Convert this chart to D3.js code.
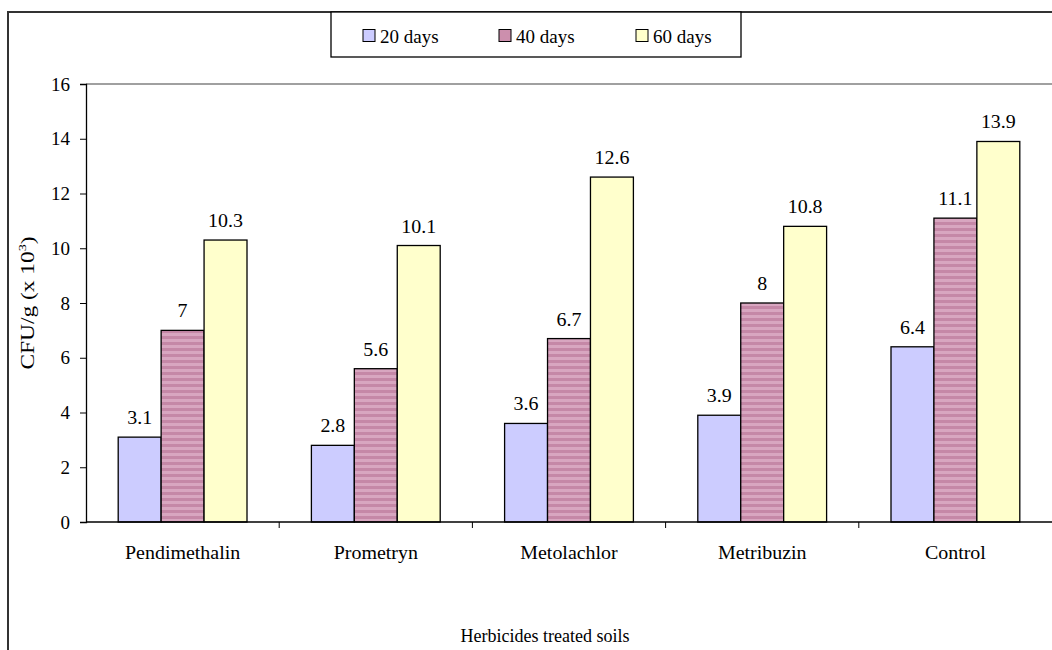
<!DOCTYPE html>
<html>
<head>
<meta charset="utf-8">
<script src="https://cdn.jsdelivr.net/npm/d3@7"></script>
<style>
  html, body { margin: 0; padding: 0; background: #fff; }
  svg { display: block; }
  svg text { font-family: "Liberation Serif", "Times New Roman", "DejaVu Serif", serif; }
</style>
</head>
<body>
<svg id="chart" width="1052" height="650"></svg>
<script>
// Microbial counts in herbicide treated soils, sampled after 20, 40 and 60 days
const categories = ["Pendimethalin", "Prometryn", "Metolachlor", "Metribuzin", "Control"];
const seriesNames = ["20 days", "40 days", "60 days"];
const days20 = [3.1, 2.8, 3.6, 3.9, 6.4];
const days40 = [7, 5.6, 6.7, 8, 11.1];
const days60 = [10.3, 10.1, 12.6, 10.8, 13.9];
const yTicks = [0, 2, 4, 6, 8, 10, 12, 14, 16];

const seriesValues = [days20, days40, days60];
const fills = ["#ccccff", "url(#stripes)", "#ffffcc"];
const swatchFills = ["#ccccff", "#cc8fad", "#ffffcc"];
const FONT = "Liberation Serif, Times New Roman, DejaVu Serif, serif";
const LABEL_SIZE = 19;
const STRETCH = 1.05;   // slight widening of the label glyphs

const svg = d3.select("#chart");
const margin = { left: 86, right: 1052, top: 84, bottom: 522 };

// striped fill for the 40-day series
const defs = svg.append("defs");
const pat = defs.append("pattern")
  .attr("id", "stripes").attr("patternUnits", "userSpaceOnUse")
  .attr("width", 8).attr("height", 6);
pat.append("rect").attr("width", 8).attr("height", 6).attr("fill", "#d8a6c0");
pat.append("rect").attr("y", 0).attr("width", 8).attr("height", 3).attr("fill", "#c588a7");

const x = d3.scaleBand().domain(categories).range([margin.left, margin.right]).paddingInner(0).paddingOuter(0);
const inner = d3.scaleBand().domain(seriesNames).range([0, x.bandwidth()]).paddingInner(0).paddingOuter(0.75);
const y = d3.scaleLinear().domain([0, 16]).range([margin.bottom, margin.top]);

// places a text label at (px, py) with a small horizontal stretch
function label(sel, px, py, txt, anchor) {
  return sel.append("text")
    .attr("transform", `translate(${px},${py}) scale(${STRETCH},1)`)
    .attr("text-anchor", anchor)
    .attr("font-family", FONT)
    .attr("font-size", LABEL_SIZE).attr("fill", "#000")
    .text(txt);
}

// outer chart frame (left and top edges)
svg.append("path")
  .attr("d", `M8,650 L8,12 L1052,12`)
  .attr("fill", "none").attr("stroke", "#333").attr("stroke-width", 2);

// plot area top edge
svg.append("line")
  .attr("x1", margin.left).attr("x2", margin.right)
  .attr("y1", y(16)).attr("y2", y(16))
  .attr("stroke", "#808080").attr("stroke-width", 1.5);

// bars
const groups = svg.append("g").selectAll("g")
  .data(categories).join("g")
  .attr("transform", d => `translate(${x(d)},0)`);

groups.each(function(cat, ci) {
  const g = d3.select(this);
  seriesNames.forEach((s, si) => {
    const v = seriesValues[si][ci];
    g.append("rect")
      .attr("x", inner(s))
      .attr("y", y(v))
      .attr("width", inner.bandwidth())
      .attr("height", y(0) - y(v))
      .attr("fill", fills[si])
      .attr("stroke", "#000").attr("stroke-width", 1.3);
    label(g, inner(s) + inner.bandwidth() / 2, y(v) - 13, v, "middle");
  });
});

// y axis
const yAxis = svg.append("g")
  .attr("transform", `translate(${margin.left},0)`)
  .call(d3.axisLeft(y).tickValues(yTicks).tickSize(6).tickPadding(10).tickFormat(d3.format("d")));
yAxis.attr("font-family", FONT);
yAxis.select(".domain").attr("stroke", "#000").attr("stroke-width", 1.3);
yAxis.selectAll(".tick line").attr("stroke", "#000");
yAxis.selectAll(".tick text").attr("font-size", LABEL_SIZE).attr("fill", "#000")
  .attr("font-family", FONT);

// x axis with ticks between categories
const xAxisG = svg.append("g").attr("transform", `translate(0,${margin.bottom})`);
xAxisG.append("line")
  .attr("x1", margin.left).attr("x2", margin.right)
  .attr("stroke", "#000").attr("stroke-width", 1.5);
xAxisG.selectAll("line.sep")
  .data(categories.slice(1)).join("line")
  .attr("class", "sep")
  .attr("x1", d => x(d)).attr("x2", d => x(d))
  .attr("y1", 0).attr("y2", 6)
  .attr("stroke", "#000");
categories.forEach(c => label(xAxisG, x(c) + x.bandwidth() / 2, 37, c, "middle"));

// axis titles
svg.append("text")
  .attr("x", 545).attr("y", 642)
  .attr("text-anchor", "middle")
  .attr("font-family", FONT)
  .attr("font-size", 18).attr("fill", "#000")
  .text("Herbicides treated soils");

// y title is drawn elongated along its reading direction
const yTitle = svg.append("text")
  .attr("transform", `translate(34,${(margin.top + margin.bottom) / 2}) rotate(-90) scale(1.3,1)`)
  .attr("text-anchor", "middle")
  .attr("font-family", FONT)
  .attr("font-size", 18).attr("fill", "#000");
yTitle.append("tspan").text("CFU/g (x 10");
yTitle.append("tspan").attr("font-size", 11).attr("dy", -8).text("3");
yTitle.append("tspan").attr("dy", 8).text(")");

// legend
const legend = svg.append("g");
legend.append("rect")
  .attr("x", 331).attr("y", 12).attr("width", 410).attr("height", 45)
  .attr("fill", "#fff").attr("stroke", "#000").attr("stroke-width", 1.3);
const legendX = [363, 499, 636];
seriesNames.forEach((s, i) => {
  legend.append("rect")
    .attr("x", legendX[i]).attr("y", 29.5).attr("width", 12).attr("height", 12)
    .attr("fill", swatchFills[i]).attr("stroke", "#000").attr("stroke-width", 1);
  legend.append("text")
    .attr("x", legendX[i] + 17).attr("y", 43)
    .attr("font-family", FONT)
    .attr("font-size", 19).attr("fill", "#000")
    .text(s);
});
</script>
</body>
</html>
